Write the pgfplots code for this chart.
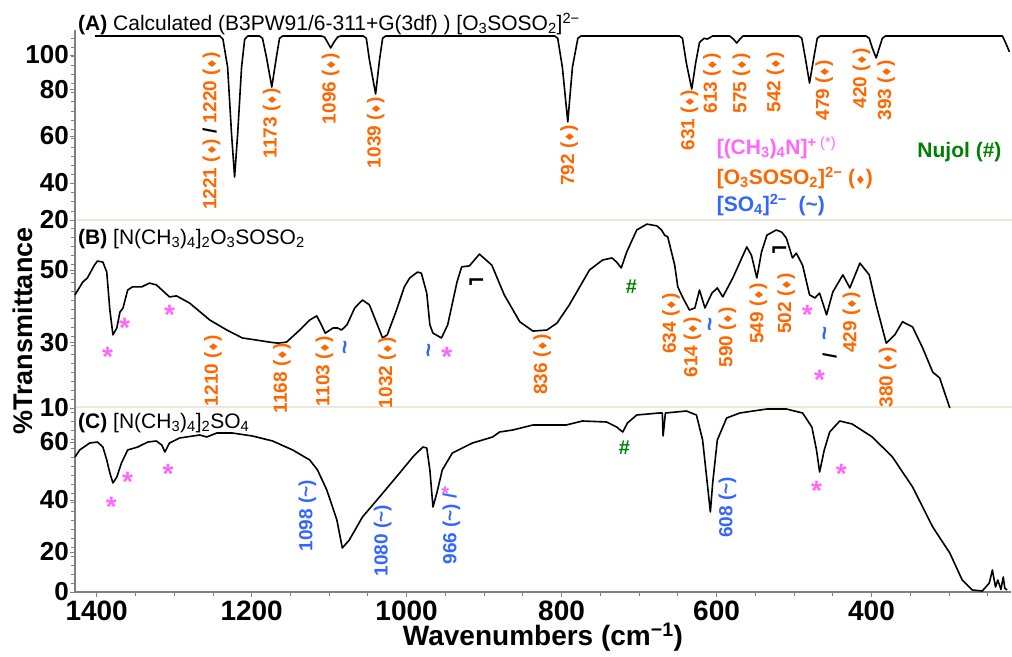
\documentclass[border=0pt]{standalone}
\usepackage{pgfplots}
\pgfplotsset{compat=1.18}
\usepackage{fontspec}
\setmainfont{Liberation Sans}
\newfontfamily\dejavu{DejaVu Sans}
\definecolor{orng}{RGB}{255,102,0}
\definecolor{pnk}{RGB}{255,102,255}
\definecolor{blu}{RGB}{51,102,255}
\definecolor{grn}{RGB}{0,128,0}
\definecolor{beige}{RGB}{236,233,216}
\newcommand{\lbl}{\fontsize{19}{20}\selectfont\bfseries}
\newcommand{\lgd}{\fontsize{21}{22}\selectfont\bfseries}
\newcommand{\dm}{{\dejavu\fontsize{12}{12}\selectfont ♦}}
\newcommand{\tl}{\textasciitilde}
\pgfplotsset{
  panel/.style={
    scale only axis, width=936pt, anchor=south west,
    xmin=220, xmax=1428, x dir=reverse, clip=false,
    axis y line*=left,
    axis line style={draw=gray, line width=1.2pt},
    tick style={gray, line width=0.8pt},
    major tick length=5pt, minor tick length=4pt, tick align=outside,
    ticklabel style={font=\fontsize{26}{28}\selectfont\bfseries},
    xticklabel style={font=\fontsize{28}{30}\selectfont\bfseries},
    yticklabel style={inner sep=1pt},
  },
  spec/.style={black, line width=1.6pt, no marks, line join=round},
}
\tikzset{
  rlbl/.style={rotate=90, anchor=east, font=\lbl, inner sep=0pt},
  star/.style={text=pnk, font=\fontsize{28}{28}\selectfont\bfseries, inner sep=0pt, yshift=-5pt},
  sq/.style={rotate=90, text=blu, font=\fontsize{24}{24}\selectfont\bfseries, inner sep=0pt},
  hsh/.style={text=grn, font=\fontsize{20}{20}\selectfont\bfseries, inner sep=0pt},
  flag/.style={font=\dejavu\fontsize{22}{22}\selectfont\bfseries, inner sep=0pt},
}
\begin{document}
\begin{tikzpicture}
\useasboundingbox (0,0) rectangle (1012pt,656pt);
\draw[beige, line width=2.5pt] (75pt,436pt) -- (1012pt,436pt);
\draw[beige, line width=2.5pt] (75pt,249pt) -- (1012pt,249pt);

% ---------------- Panel A ----------------
\begin{axis}[panel, at={(75pt,436pt)}, height=190pt, ymin=20, ymax=112,
  axis x line=none,
  ytick={20,37.9,60.7,83.4,99.9}, yticklabels={20,40,60,80,100},
  minor ytick={24.4,28.8,...,110}]
\addplot[spec] coordinates {
(1402,109.1) (1241,109.1) (1237,107.5) (1231,94) (1226,62) (1222,40.8) (1218,62) (1213,94) (1209,107.5) (1205,109.1)
(1190,109.1) (1186,108) (1181,99) (1174,84.4) (1168,99) (1164,108) (1160,109.1)
(1110,109.1) (1106,108.6) (1102,106) (1098,103.3) (1094,106) (1089,108.6) (1085,109.1)
(1056,109.1) (1052,108) (1048,97.5) (1040,81) (1035,97.5) (1031,108) (1027,109.1)
(809,109.1) (805,108) (799,94) (792,67.5) (786,94) (779,108) (775,109.1)
(648,109.1) (644,108) (639,96) (632,83.4) (627,96) (622,106) (616,108) (612,107.6) (605,109.1)
(583,109.1) (578,107.5) (574,105.7) (570,107.5) (566,109.1)
(494,109.1) (490,108) (485,97.5) (480,86.3) (475,97.5) (470,108) (466,109.1)
(407,109.1) (403,108) (399,103.3) (394,98.5) (390,103.3) (386,108) (382,109.1)
(231,109.1) (226,105) (222,101.4)
};
\node[rlbl,text=orng] at (axis cs:1252,101.4) {1221 (\dm) \textcolor{black}{/} 1220 (\dm)};
\node[rlbl,text=orng] at (axis cs:1174,83.9) {1173 (\dm)};
\node[rlbl,text=orng] at (axis cs:1098,100.9) {1096 (\dm)};
\node[rlbl,text=orng] at (axis cs:1040,79.6) {1039 (\dm)};
\node[rlbl,text=orng] at (axis cs:790,66) {792 (\dm)};
\node[rlbl,text=orng] at (axis cs:635,83) {631 (\dm)};
\node[rlbl,text=orng] at (axis cs:606,100.9) {613 (\dm)};
\node[rlbl,text=orng] at (axis cs:568,100.9) {575 (\dm)};
\node[rlbl,text=orng] at (axis cs:524,101.4) {542 (\dm)};
\node[rlbl,text=orng] at (axis cs:461,97.5) {479 (\dm)};
\node[rlbl,text=orng] at (axis cs:413,103.3) {420 (\dm)};
\node[rlbl,text=orng] at (axis cs:381,97.5) {393 (\dm)};
\node[anchor=west, inner sep=0pt, font=\lgd, text=pnk] at (axis cs:600,54.9) {[(CH\textsubscript{3})\textsubscript{4}N]\textsuperscript{+ \mdseries(*)}};
\node[anchor=west, inner sep=0pt, font=\lgd, text=orng] at (axis cs:600,40.3) {[O\textsubscript{3}SOSO\textsubscript{2}]\textsuperscript{2−} (\dm)};
\node[anchor=west, inner sep=0pt, font=\lgd, text=blu] at (axis cs:600,27.3) {[SO\textsubscript{4}]\textsuperscript{2−}\ \ (\tl)};
\node[anchor=west, inner sep=0pt, font=\lgd, text=grn] at (axis cs:341,52.9) {Nujol (\#)};
\end{axis}

% ---------------- Panel B ----------------
\begin{axis}[panel, at={(75pt,248pt)}, height=188pt, ymin=10, ymax=64.5,
  axis x line=none,
  ytick={10,29.1,50}, yticklabels={10,30,50},
  minor ytick={12.6,15.2,...,63}]
\addplot[spec] coordinates {
(1428,42.8) (1418,46.5) (1412,47.7) (1403,51.4) (1399,52.6) (1392,52.3) (1387,49.4) (1383,38.4) (1379,31.2) (1374,33.2)
(1370,37.8) (1366,39.0) (1360,44.2) (1354,45.1) (1342,45.1) (1332,46.2) (1323,45.7) (1306,42.2) (1297,42.5) (1280,40.4)
(1254,35.5) (1232,32.6) (1212,30.3) (1194,29.7) (1177,29.1) (1166,28.8) (1155,29.1) (1138,32.6) (1125,35.5) (1116,36.7)
(1110,34.1) (1105,31.7) (1095,33.2) (1089,33.2) (1084,32.6) (1077,34.1) (1067,39.0) (1057,41.3) (1048,39.9) (1031,30.3)
(1025,31.2) (1013,38.4) (1003,45.1) (996,47.7) (986,49.4) (981,49.1) (974,43.3) (970,34.1) (966,31.7) (955,30.3)
(947,34.1) (935,46.5) (929,50.9) (919,51.2) (906,54.6) (890,51.4) (874,42.8) (854,35.0) (837,32.3) (819,32.6)
(806,34.6) (790,39.9) (764,50.0) (747,52.9) (735,53.5) (729,52.3) (723,50.6) (716,55.2) (703,61.6) (690,63.3)
(677,62.8) (671,61.6) (667,60.1) (663,59.6) (654,51.4) (650,45.1) (644,42.2) (635,38.4) (628,39.0) (622,44.2)
(615,39.0) (606,43.3) (599,44.8) (592,42.2) (579,47.7) (561,56.7) (555,54.3) (548,47.7) (542,55.2) (535,60.1)
(523,61.6) (516,61.0) (510,59.3) (506,56.4) (502,53.5) (497,54.9) (489,51.4) (480,42.8) (473,41.9) (467,43.3)
(458,37.0) (450,43.6) (437,48.6) (428,44.8) (415,52.0) (403,48.6) (394,39.9) (381,28.8) (370,31.2) (360,35.0)
(347,33.5) (334,27.4) (321,20.4) (312,18.7) (299,10)
};
\node[rlbl,text=orng] at (axis cs:1250,31.2) {1210 (\dm)};
\node[rlbl,text=orng] at (axis cs:1161,28.8) {1168 (\dm)};
\node[rlbl,text=orng] at (axis cs:1106,30.9) {1103 (\dm)};
\node[rlbl,text=orng] at (axis cs:1025,30.6) {1032 (\dm)};
\node[rlbl,text=orng] at (axis cs:825,31.4) {836 (\dm)};
\node[rlbl,text=orng] at (axis cs:659,43.3) {634 (\dm)};
\node[rlbl,text=orng] at (axis cs:631,36.4) {614 (\dm)};
\node[rlbl,text=orng] at (axis cs:586,39.3) {590 (\dm)};
\node[rlbl,text=orng] at (axis cs:546,46.2) {549 (\dm)};
\node[rlbl,text=orng] at (axis cs:510,49.1) {502 (\dm)};
\node[rlbl,text=orng] at (axis cs:426,43.6) {429 (\dm)};
\node[rlbl,text=orng] at (axis cs:379,27.7) {380 (\dm)};
\node[star] at (axis cs:1386,26.2) {*};
\node[star] at (axis cs:1364,34.6) {*};
\node[star] at (axis cs:1306,38.4) {*};
\node[star] at (axis cs:948,26.2) {*};
\node[star] at (axis cs:483,38.4) {*};
\node[star] at (axis cs:467,19.6) {*};
\node[sq] at (axis cs:1076,27.4) {\tl};
\node[sq] at (axis cs:968,26.8) {\tl};
\node[sq] at (axis cs:605,34.1) {\tl};
\node[sq] at (axis cs:457,31.7) {\tl};
\node[hsh] at (axis cs:710,45.1) {\#};
\node[flag] at (axis cs:910,46.2) {⌐};
\node[flag] at (axis cs:519,55.2) {⌐};
\node[rotate=90, font=\lbl, inner sep=0pt] at (axis cs:454,25.1) {/};
\end{axis}

% ---------------- Panel C ----------------
\begin{axis}[panel, at={(75pt,64pt)}, height=185pt, ymin=0, ymax=74,
  axis x line*=bottom,
  ytick={0,16,36.8,60}, yticklabels={0,20,40,60},
  minor ytick={3.6,7.2,...,73},
  xtick={400,600,800,1000,1200,1400}, xticklabels={400,600,800,1000,1200,1400},
  minor xtick={250,300,...,1400},
  xlabel={Wavenumbers (cm\textsuperscript{−1})},
  xlabel style={font=\fontsize{28}{30}\selectfont\bfseries, yshift=4pt}]
\addplot[spec] coordinates {
(1428,54) (1422,56.8) (1409,59.6) (1399,60) (1392,58) (1387,52.8) (1383,47.6) (1379,43.6) (1374,46) (1368,51.6)
(1360,56.8) (1347,58) (1334,60) (1323,60.4) (1316,58.8) (1312,56) (1306,59.6) (1293,61.6) (1267,62.8) (1258,62)
(1245,63.6) (1225,63.6) (1199,62.4) (1173,60.4) (1147,56.8) (1125,52.8) (1115,48.8) (1103,40.8) (1090,28.8) (1083,17.6)
(1074,20.8) (1057,30) (1035,38) (1009,47.6) (992,54) (979,58) (974,57.6) (970,48.8) (966,34) (961,39.6)
(954,48.8) (941,55.6) (915,59.6) (889,62) (880,64) (863,64.8) (837,66.8) (794,66.8) (773,68.4) (742,68)
(729,66) (721,64) (715,67.6) (703,70.8) (674,71.6) (670,71.6) (669,62.4) (666,71.6) (639,72.4) (626,70.8)
(618,60.8) (612,43.6) (608,32) (605,43.6) (599,60.8) (587,69.6) (570,71.6) (535,73.2) (510,73.2) (489,71.6)
(477,66) (471,56.8) (467,48) (461,56.8) (454,64) (441,68.4) (425,67.2) (399,62) (373,54) (347,42)
(321,26) (299,15.6) (283,4.8) (270,0.8) (257,0.4) (248,3.6) (244,8.8) (240,2) (237,4.8) (233,1)
(230,6) (228,1.5) (225,0.8)
};
\node[rlbl,text=blu] at (axis cs:1128,44.8) {1098 (\tl)};
\node[rlbl,text=blu] at (axis cs:1031,34.8) {1080 (\tl)};
\node[rlbl,text=blu] at (axis cs:942,39.6) {966 (\tl) /};
\node[rlbl,text=blu] at (axis cs:586,46) {608 (\tl)};
\node[star] at (axis cs:1381,36) {*};
\node[star] at (axis cs:1360,46) {*};
\node[star] at (axis cs:1308,49.2) {*};
\node[star] at (axis cs:471,42.4) {*};
\node[star] at (axis cs:439,49.2) {*};
\node[star, font=\fontsize{20}{20}\selectfont\bfseries, yshift=2pt] at (axis cs:950,40.4) {*};
\node[hsh] at (axis cs:719,57.6) {\#};
\end{axis}

% titles and y label
\node[anchor=west, font=\fontsize{21}{22}\selectfont, inner sep=0pt] at (78pt,632pt)
  {\textbf{(A)} Calculated (B3PW91/6-311+G(3df) ) [O\textsubscript{3}SOSO\textsubscript{2}]\textsuperscript{2−}};
\node[anchor=west, font=\fontsize{21}{22}\selectfont, inner sep=0pt] at (78pt,417pt)
  {\textbf{(B)} [N(CH\textsubscript{3})\textsubscript{4}]\textsubscript{2}O\textsubscript{3}SOSO\textsubscript{2}};
\node[anchor=west, font=\fontsize{21}{22}\selectfont, inner sep=0pt] at (78pt,233pt)
  {\textbf{(C)} [N(CH\textsubscript{3})\textsubscript{4}]\textsubscript{2}SO\textsubscript{4}};
\node[rotate=90, font=\fontsize{27}{28}\selectfont\bfseries] at (23pt,325pt) {\%Transmittance};
\end{tikzpicture}
\end{document}
